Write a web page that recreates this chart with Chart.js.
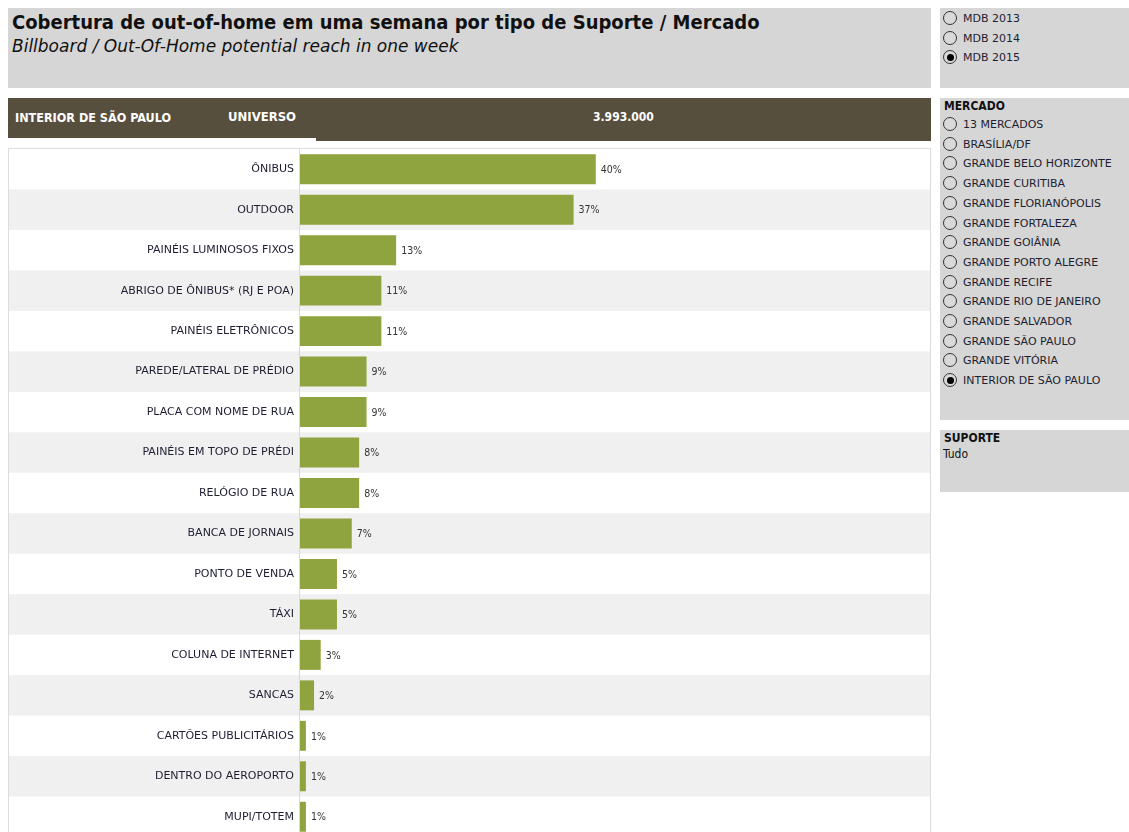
<!DOCTYPE html>
<html>
<head>
<meta charset="utf-8">
<script src="https://cdn.jsdelivr.net/npm/chart.js@4.4.1/dist/chart.umd.min.js"></script>
<style>
  html, body { margin: 0; padding: 0; background: #fff; overflow: hidden; }
  body { width: 1129px; height: 832px; position: relative; font-family: "DejaVu Sans", sans-serif; color: #1e1e28; }
  .box { position: absolute; background: #d6d6d6; }
  #titleBox { left: 8px; top: 8px; width: 923px; height: 80px; }
  #titleBox h1 { margin: 0; position: absolute; left: 4px; top: 2px; font-family: "DejaVu Sans Condensed", "DejaVu Sans", sans-serif; font-size: 20px; font-weight: bold; color: #111; white-space: nowrap; }
  #titleBox h2 { margin: 0; position: absolute; left: 4px; top: 28px; font-size: 17px; font-weight: normal; font-style: italic; color: #111; white-space: nowrap; }
  #yearBox { left: 940px; top: 8px; width: 189px; height: 80px; }
  #mercadoBox { left: 940px; top: 98px; width: 189px; height: 322px; }
  #suporteBox { left: 940px; top: 430px; width: 189px; height: 62px; }
  .ptitle { position: absolute; left: 4px; font-size: 12px; font-weight: bold; color: #111; font-family: "DejaVu Sans Condensed", "DejaVu Sans", sans-serif; }
  .opt { position: absolute; left: 3px; height: 16px; font-size: 11px; line-height: 16px; white-space: nowrap; color: #1e1e32; }
  .opt .r { display: inline-block; width: 12px; height: 12px; border: 1.2px solid #333; border-radius: 50%; vertical-align: middle; margin-right: 6px; position: relative; top: -1px; background: #d9d9d9; }
  .opt .r.on::after { content: ""; position: absolute; left: 2.5px; top: 2.5px; width: 7px; height: 7px; border-radius: 50%; background: #000; }
  #header { position: absolute; left: 8px; top: 98px; width: 923px; height: 40px; background: #574f3d; color: #fff; font-weight: bold; font-family: "DejaVu Sans Condensed", "DejaVu Sans", sans-serif; }
  #headerStep { position: absolute; left: 316px; top: 138px; width: 615px; height: 3px; background: #574f3d; }
  #header span { position: absolute; white-space: nowrap; }
  #chartBox { position: absolute; left: 8px; top: 148px; width: 923px; height: 700px; border: 1px solid #dcdcdc; box-sizing: border-box; }
  #chartBox canvas { display: block; }
</style>
</head>
<body>
<div id="titleBox" class="box">
  <h1>Cobertura de out-of-home em uma semana por tipo de Suporte / Mercado</h1>
  <h2>Billboard / Out-Of-Home potential reach in one week</h2>
</div>
<div id="yearBox" class="box"></div>
<div id="mercadoBox" class="box"><div class="ptitle" style="top:1px">MERCADO</div></div>
<div id="suporteBox" class="box">
  <div class="ptitle" style="top:1px">SUPORTE</div>
  <div style="position:absolute;left:3px;top:17px;font-size:12px;color:#111;font-family:'DejaVu Sans Condensed'">Tudo</div>
</div>
<div id="header">
  <span style="left:7px;top:12px;font-size:12.5px">INTERIOR DE SÃO PAULO</span>
  <span style="left:220px;top:11px;font-size:13px">UNIVERSO</span>
  <span style="left:585px;top:12px;font-size:12px">3.993.000</span>
</div>
<div id="headerStep"></div>
<div id="chartBox"><canvas id="chart"></canvas></div>

<script>
const $ = id => document.getElementById(id);

// dados
const suportes = [
  'ÔNIBUS', 'OUTDOOR', 'PAINÉIS LUMINOSOS FIXOS', 'ABRIGO DE ÔNIBUS* (RJ E POA)',
  'PAINÉIS ELETRÔNICOS', 'PAREDE/LATERAL DE PRÉDIO', 'PLACA COM NOME DE RUA',
  'PAINÉIS EM TOPO DE PRÉDI', 'RELÓGIO DE RUA', 'BANCA DE JORNAIS', 'PONTO DE VENDA',
  'TÁXI', 'COLUNA DE INTERNET', 'SANCAS', 'CARTÕES PUBLICITÁRIOS',
  'DENTRO DO AEROPORTO', 'MUPI/TOTEM'
];
const cobertura = [40, 37, 13, 11, 11, 9, 9, 8, 8, 7, 5, 5, 2.8, 1.9, 0.8, 0.8, 0.8];
const anos = ['MDB 2013', 'MDB 2014', 'MDB 2015'];
const anoSelecionado = 'MDB 2015';
const mercados = [
  '13 MERCADOS', 'BRASÍLIA/DF', 'GRANDE BELO HORIZONTE', 'GRANDE CURITIBA',
  'GRANDE FLORIANÓPOLIS', 'GRANDE FORTALEZA', 'GRANDE GOIÂNIA', 'GRANDE PORTO ALEGRE',
  'GRANDE RECIFE', 'GRANDE RIO DE JANEIRO', 'GRANDE SALVADOR', 'GRANDE SÃO PAULO',
  'GRANDE VITÓRIA', 'INTERIOR DE SÃO PAULO'
];
const mercadoSelecionado = 'INTERIOR DE SÃO PAULO';

// filtros (radios)
function addOptions(box, items, selected, top) {
  items.forEach((t, i) => {
    const d = document.createElement('div');
    d.className = 'opt';
    d.style.top = (top + i * 19.7) + 'px';
    d.innerHTML = `<span class="r${t === selected ? ' on' : ''}"></span>${t}`;
    box.appendChild(d);
  });
}
addOptions($('yearBox'), anos, anoSelecionado, 3);
addOptions($('mercadoBox'), mercados, mercadoSelecionado, 19);

// canvas
const W = 921, H = 688;
const cv = $('chart');
cv.style.width = W + 'px';
cv.style.height = H + 'px';

const AXIS_X = 291;

// faixas alternadas, desenhadas antes dos eixos
const bandas = {
  id: 'bandas',
  beforeDraw(chart) {
    const { ctx, scales: { y }, chartArea } = chart;
    const step = Math.abs(y.getPixelForValue(1) - y.getPixelForValue(0));
    ctx.save();
    suportes.forEach((s, i) => {
      if (i % 2 === 1) {
        const c = y.getPixelForValue(i);
        ctx.fillStyle = '#f0f0f0';
        ctx.fillRect(0, c - step / 2, W, step);
      }
    });
    ctx.strokeStyle = '#d8d8d8';
    ctx.lineWidth = 1;
    ctx.beginPath();
    ctx.moveTo(chartArea.left - 0.5, 0);
    ctx.lineTo(chartArea.left - 0.5, H);
    ctx.stroke();
    ctx.restore();
  }
};

const rotulos = {
  id: 'rotulos',
  afterDatasetsDraw(chart) {
    const { ctx } = chart;
    const meta = chart.getDatasetMeta(0);
    ctx.save();
    ctx.font = '10.5px "DejaVu Sans Condensed", "DejaVu Sans", sans-serif';
    ctx.fillStyle = '#333';
    ctx.textBaseline = 'middle';
    meta.data.forEach((bar, i) => {
      ctx.fillText(Math.round(cobertura[i]) + '%', bar.x + 5, bar.y + 1);
    });
    ctx.restore();
  }
};

new Chart(cv.getContext('2d'), {
  type: 'bar',
  data: {
    labels: suportes,
    datasets: [{
      data: cobertura,
      backgroundColor: '#8fa43e',
      borderWidth: 0,
      categoryPercentage: 1,
      barPercentage: 0.74
    }]
  },
  options: {
    indexAxis: 'y',
    responsive: false,
    animation: false,
    devicePixelRatio: 1,
    layout: { padding: 0 },
    plugins: { legend: { display: false }, tooltip: { enabled: false } },
    scales: {
      x: { display: false, min: 0, max: 85.2 },
      y: {
        afterFit(s) { s.width = AXIS_X; s.paddingTop = 0; s.paddingBottom = 0; },
        grid: { display: false, drawTicks: false },
        border: { display: false },
        ticks: {
          autoSkip: false,
          color: '#1e1e32',
          padding: 6,
          font: { family: '"DejaVu Sans", sans-serif', size: 11 }
        }
      }
    }
  },
  plugins: [bandas, rotulos]
});
</script>
</body>
</html>
